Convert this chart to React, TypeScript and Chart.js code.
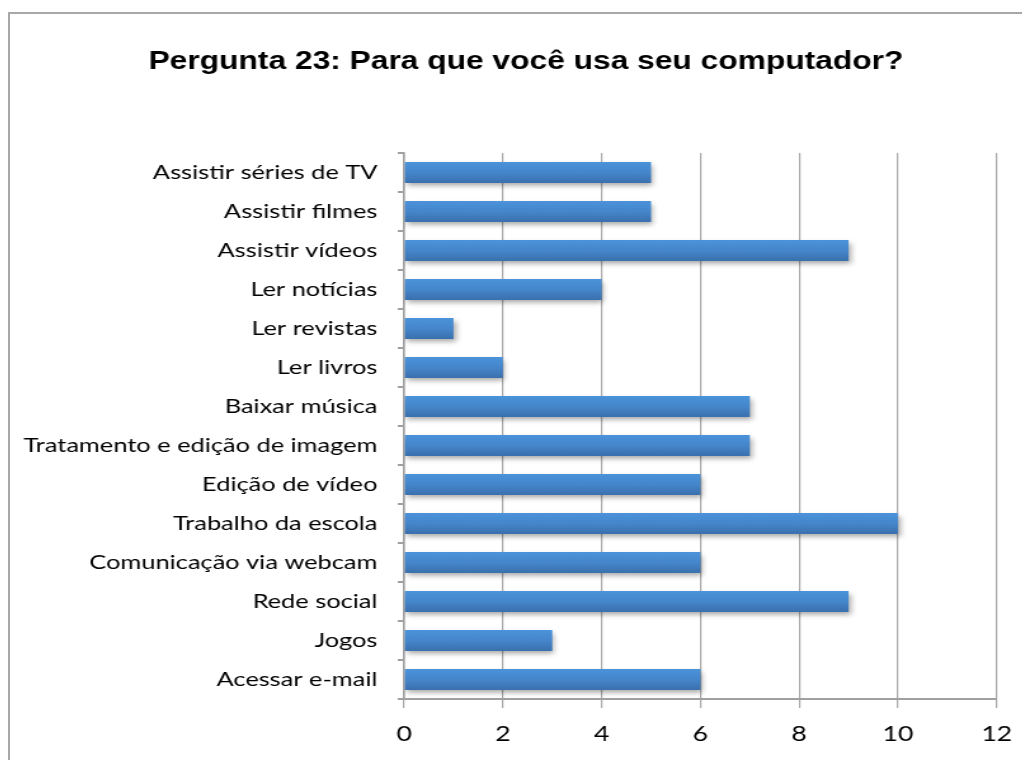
import React, { useEffect, useRef } from "react";
import { Chart, registerables } from "chart.js";

Chart.register(...registerables);

const TITLE = "Pergunta 23: Para que você usa seu computador?";
const categories = [
  "Assistir séries de TV",
  "Assistir filmes",
  "Assistir vídeos",
  "Ler notícias",
  "Ler revistas",
  "Ler livros",
  "Baixar música",
  "Tratamento e edição de imagem",
  "Edição de vídeo",
  "Trabalho da escola",
  "Comunicação via webcam",
  "Rede social",
  "Jogos",
  "Acessar e-mail",
];
const values = [5, 5, 9, 4, 1, 2, 7, 7, 6, 10, 6, 9, 3, 6];
const xMin = 0;
const xMax = 12;
const xStep = 2;

const BAR_PCT = 0.54;
// the reference picture is stretched horizontally; draw narrower and stretch
const OUT_W = 1022;
const OUT_H = 752;
const CANVAS_W = 805;
const STRETCH = OUT_W / CANVAS_W;

const shadowPlugin = {
  id: "barShadow",
  afterLayout(chart: any) {
    // centre the title a little to the right, as in the reference
    if (chart.titleBlock) {
      chart.titleBlock.left = 37;
    }
  },
  beforeDatasetsDraw(chart: any) {
    const ctx = chart.ctx;
    ctx.save();
    ctx.shadowColor = "rgba(0,0,0,0.35)";
    ctx.shadowBlur = 5;
    ctx.shadowOffsetX = 1.6;
    ctx.shadowOffsetY = 3;
  },
  afterDatasetsDraw(chart: any) {
    chart.ctx.restore();
  },
};

export default function App() {
  const ref = useRef<HTMLCanvasElement | null>(null);

  useEffect(() => {
    if (!ref.current) return;
    const chart = new Chart(ref.current, {
      type: "bar",
      data: {
        labels: categories,
        datasets: [
          {
            data: values,
            backgroundColor: (c: any) => {
              const ch = c.chart;
              const ys = ch.scales && ch.scales.y;
              if (!ys || c.dataIndex === undefined || !ch.chartArea) return "#4584c8";
              const center = ys.getPixelForValue(c.dataIndex);
              const band = (ch.chartArea.bottom - ch.chartArea.top) / categories.length;
              const h = band * BAR_PCT;
              const g = ch.ctx.createLinearGradient(0, center - h / 2, 0, center + h / 2);
              g.addColorStop(0, "#4b93da");
              g.addColorStop(0.5, "#4586cb");
              g.addColorStop(1, "#3a70ad");
              return g;
            },
            borderWidth: 0,
            barPercentage: BAR_PCT,
            categoryPercentage: 1,
          },
        ],
      },
      options: {
        indexAxis: "y",
        animation: false,
        responsive: false,
        maintainAspectRatio: false,
        layout: { padding: { left: 0, right: 26, top: 0, bottom: 0 } },
        plugins: {
          legend: { display: false },
          tooltip: { enabled: false },
          title: {
            display: true,
            text: TITLE,
            color: "#000000",
            font: { family: "'Liberation Sans', Arial, sans-serif", size: 25, weight: "bold", lineHeight: 1.2 },
            padding: { top: 39, bottom: 76 },
          },
        },
        scales: {
          x: {
            type: "linear",
            min: xMin,
            max: xMax,
            ticks: {
              stepSize: xStep,
              color: "#000000",
              font: { family: "Lato, 'Open Sans', sans-serif", size: 21 },
              padding: 14,
            },
            grid: {
              color: "#a8a8a8",
              lineWidth: 1.2,
              tickLength: 9,
              drawTicks: true,
            },
            border: { display: true, color: "#a0a0a0", width: 2 },
            afterFit: (s: any) => {
              s.height = 61;
            },
          },
          y: {
            type: "category",
            ticks: {
              color: "#000000",
              font: { family: "Lato, 'Open Sans', sans-serif", size: 20 },
              padding: 16,
              autoSkip: false,
            },
            grid: {
              offset: true,
              drawOnChartArea: false,
              drawTicks: true,
              tickLength: 5,
              color: "#a0a0a0",
              lineWidth: 2,
            },
            border: { display: true, color: "#a0a0a0", width: 1.6 },
            afterFit: (s: any) => {
              s.width = 312;
            },
          },
        },
      },
      plugins: [shadowPlugin],
    } as any);
    return () => chart.destroy();
  }, []);

  return (
    <div style={{ position: "relative", width: OUT_W, height: OUT_H, overflow: "hidden" }}>
      <div
        style={{
          position: "absolute",
          left: 0,
          top: 4,
          width: 1030,
          height: 760,
          borderLeft: "2px solid #a8a8a8",
          borderTop: "2px solid #a8a8a8",
          boxSizing: "border-box",
        }}
      />
      <div
        style={{
          position: "absolute",
          left: 0,
          top: 0,
          width: CANVAS_W,
          height: OUT_H,
          transform: `scaleX(${STRETCH})`,
          transformOrigin: "0 0",
        }}
      >
        <canvas ref={ref} width={CANVAS_W} height={OUT_H} />
      </div>
    </div>
  );
}
